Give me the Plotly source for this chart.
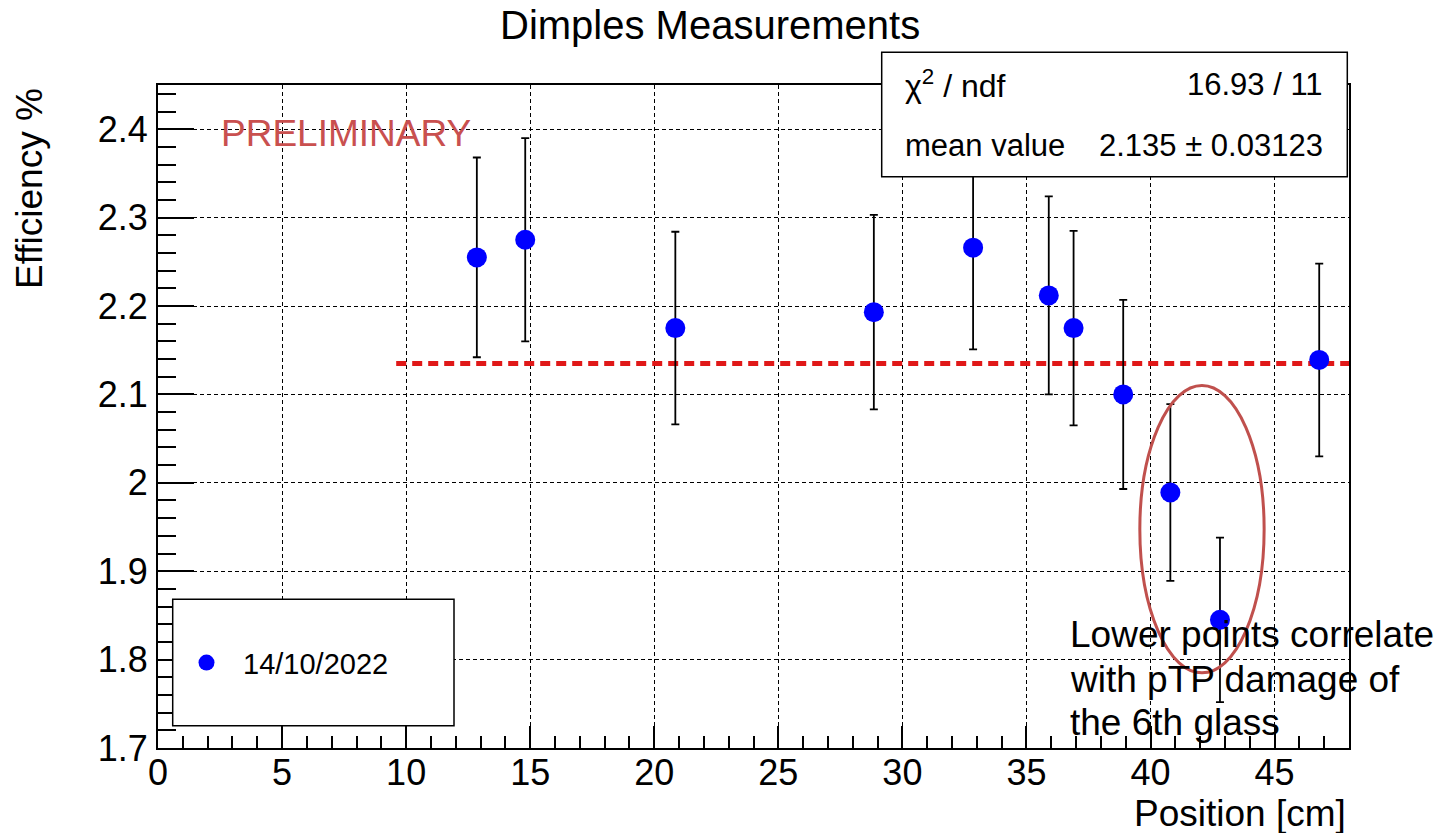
import plotly.graph_objects as go

# ---- data ----
positions = [12.85, 14.8, 20.85, 28.85, 32.85, 35.9, 36.9, 38.9, 40.8, 42.8, 46.8]
efficiency = [2.255, 2.275, 2.175, 2.193, 2.266, 2.212, 2.175, 2.100, 1.989, 1.845, 2.139]
errors = [0.113, 0.115, 0.109, 0.110, 0.115, 0.112, 0.110, 0.107, 0.100, 0.093, 0.109]
fit_range = [9.6, 48.0]
mean_value = 2.135
mean_error = 0.03123
chi2 = 16.93
ndf = 11
legend_label = "14/10/2022"
x_tickvals = [0, 5, 10, 15, 20, 25, 30, 35, 40, 45]
x_ticktext = ["0", "5", "10", "15", "20", "25", "30", "35", "40", "45"]
y_tickvals = [1.7, 1.8, 1.9, 2.0, 2.1, 2.2, 2.3, 2.4]
y_ticktext = ["1.7", "1.8", "1.9", "2", "2.1", "2.2", "2.3", "2.4"]
ellipse_x = [39.57, 44.58]
ellipse_y = [1.785, 2.110]

FONT = "Liberation Sans, Arial, Helvetica, sans-serif"
W, H = 1441, 833
L, R, T, B = 158, 1349, 85, 748


def px(xp):
    return (xp - L) / (R - L)


def py(yp):
    return (B - yp) / (B - T)


fig = go.Figure()

fig.add_trace(go.Scatter(
    x=fit_range, y=[mean_value, mean_value], mode="lines",
    line=dict(color="#e01818", width=5, dash="10px,6px"),
    showlegend=False, hoverinfo="skip"))

fig.add_trace(go.Scatter(
    x=positions, y=efficiency, mode="markers", name=legend_label,
    marker=dict(color="#0000ff", size=20),
    error_y=dict(type="data", array=errors, visible=True,
                 color="black", thickness=1.8, width=4),
    showlegend=True))

shapes = []
# stats box
shapes.append(dict(type="rect", xref="paper", yref="paper",
                   x0=px(881.7), x1=px(1347.3), y0=py(176.7), y1=py(52.3),
                   line=dict(color="black", width=1.5), fillcolor="white", layer="above"))
# legend box
shapes.append(dict(type="rect", xref="paper", yref="paper",
                   x0=px(172.7), x1=px(454), y0=py(725.7), y1=py(599.3),
                   line=dict(color="black", width=1.5), fillcolor="white", layer="above"))
# ellipse
shapes.append(dict(type="circle", xref="x", yref="y",
                   x0=ellipse_x[0], x1=ellipse_x[1], y0=ellipse_y[0], y1=ellipse_y[1],
                   line=dict(color="#c0504d", width=3), layer="above"))

ann = []


def text(s, xp, yp, size, xanchor="left", color="black", angle=0):
    ann.append(dict(text=s, x=px(xp), y=py(yp), xref="paper", yref="paper",
                    xanchor=xanchor, yanchor="middle", showarrow=False,
                    textangle=angle, font=dict(family=FONT, size=size, color=color)))


text("Dimples Measurements", 710, 25, 40, "center")
text("PRELIMINARY", 219, 133.5, 37, "left", "#c9504f")
text("Efficiency %", 29, 189, 37, "center", angle=-90)
text("Position [cm]", 1348, 813, 37, "right")
text("χ<sup>2</sup> / ndf", 903, 84, 32, "left")
text(f"{chi2:.2f} / {ndf}", 1325, 84, 31, "right")
text("mean value", 903, 145, 31, "left")
text(f"{mean_value:.3f} ± {mean_error:.5f}", 1325, 145, 31, "right")
text("Lower points correlate", 1068, 634, 37, "left")
text("with pTP damage of", 1068, 679, 37, "left")
text("the 6th glass", 1068, 722.5, 37, "left")

grid = dict(gridcolor="black", gridwidth=1.3, griddash="4px,3px")

fig.update_layout(
    width=W, height=H,
    margin=dict(l=L, r=W - R, t=T, b=H - B, pad=0),
    paper_bgcolor="white", plot_bgcolor="white",
    font=dict(family=FONT, size=36, color="black"),
    shapes=shapes, annotations=ann,
    legend=dict(x=px(170), y=py(662.7), xanchor="left", yanchor="middle",
                bgcolor="rgba(0,0,0,0)", borderwidth=0,
                font=dict(family=FONT, size=29, color="black"),
                itemwidth=63),
    xaxis=dict(range=[0, 48], showline=True, linecolor="black", linewidth=2,
               mirror=True, zeroline=False, showgrid=True, **grid,
               tickvals=x_tickvals, ticktext=x_ticktext,
               ticks="inside", ticklen=22, tickwidth=1.5, tickcolor="black",
               ticklabelstandoff=-8,
               minor=dict(dtick=1, ticks="inside", ticklen=12, tickwidth=1.5,
                          tickcolor="black", showgrid=False),
               tickfont=dict(family=FONT, size=36, color="black")),
    yaxis=dict(range=[1.7, 2.45], showline=True, linecolor="black", linewidth=2,
               mirror=True, zeroline=False, showgrid=True, **grid,
               tickvals=y_tickvals, ticktext=y_ticktext,
               ticks="inside", ticklen=36, tickwidth=1.5, tickcolor="black",
               ticklabelstandoff=1,
               minor=dict(dtick=0.02, tick0=1.7, ticks="inside", ticklen=18, tickwidth=1.5,
                          tickcolor="black", showgrid=False),
               tickfont=dict(family=FONT, size=36, color="black")),
)

fig.write_html("out.html")
